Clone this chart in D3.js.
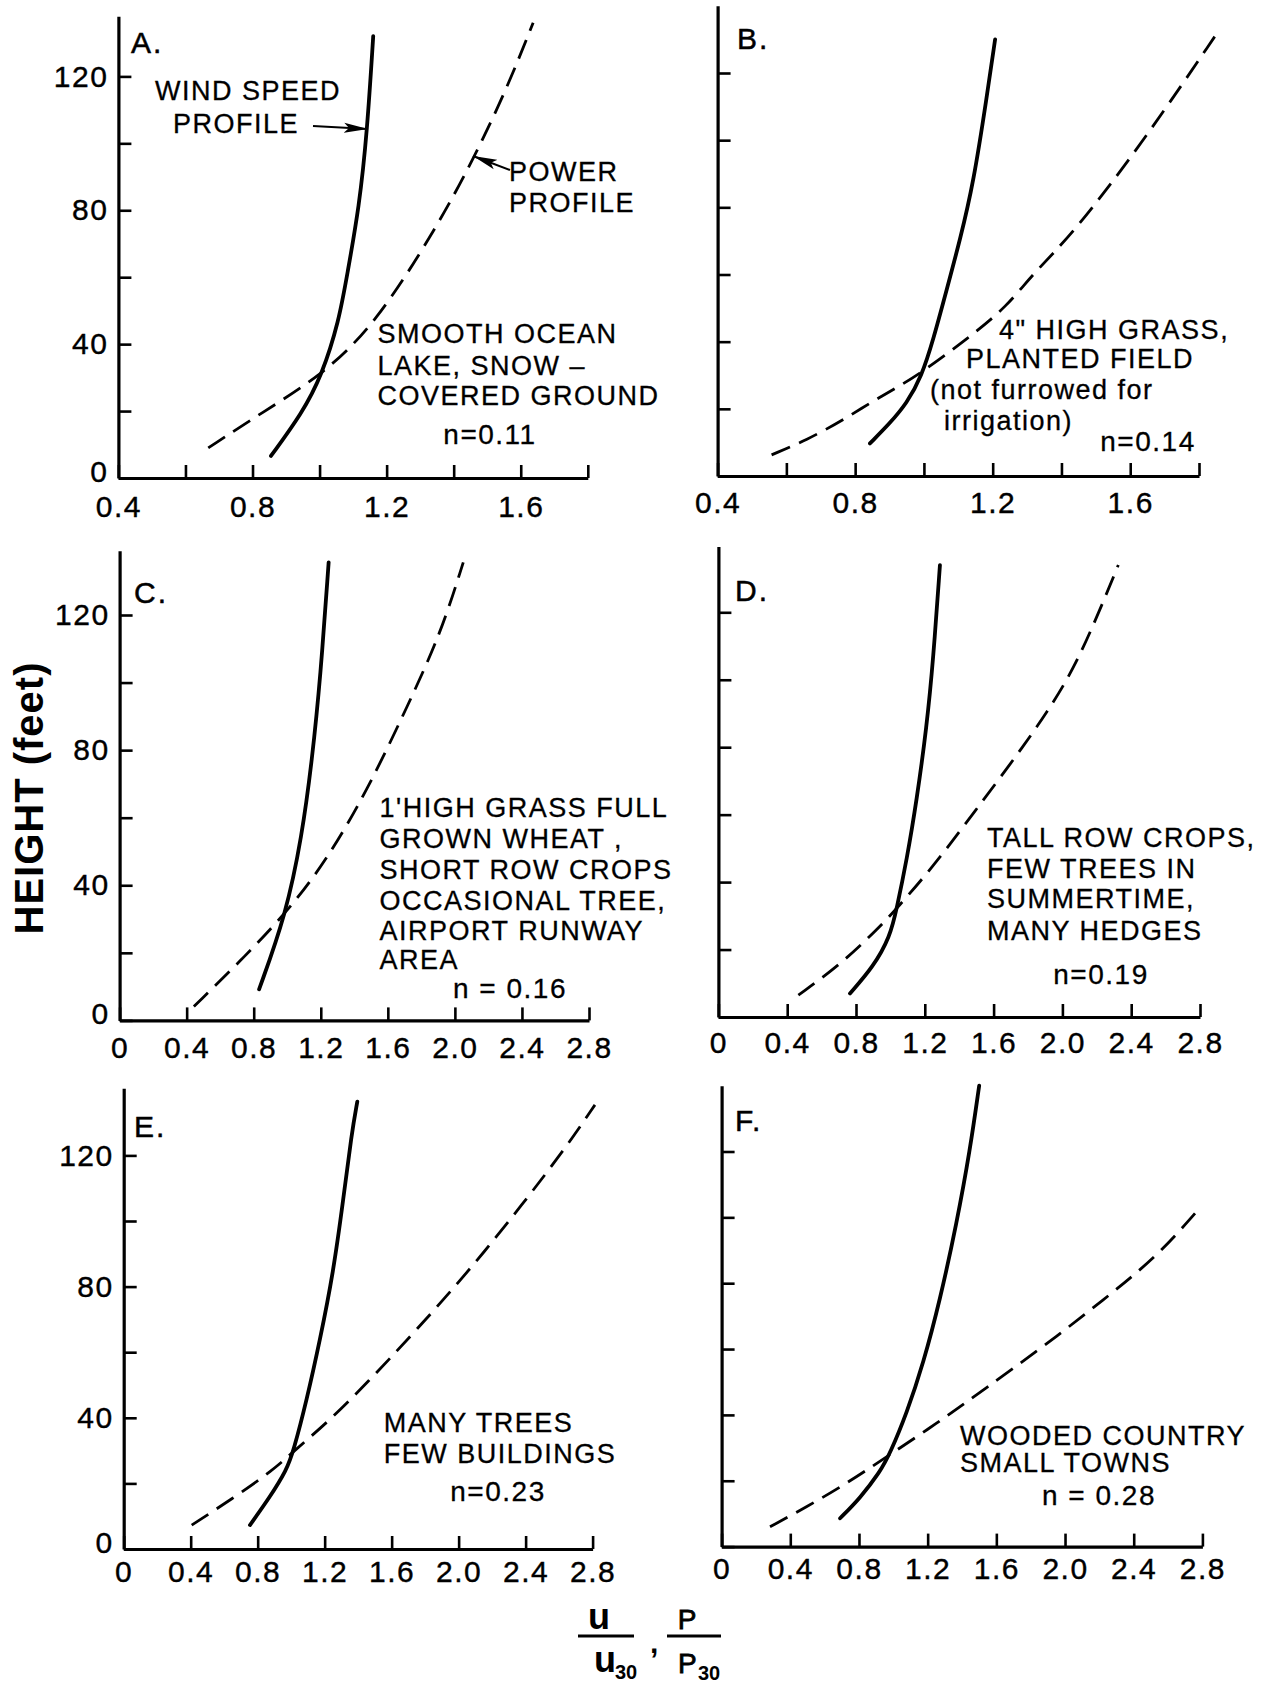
<!DOCTYPE html>
<html>
<head>
<meta charset="utf-8">
<script src="https://cdn.jsdelivr.net/npm/d3@7"></script>
<style>
  body { margin: 0; background: #fff; }
  svg { display: block; }
  text { font-family: "Liberation Sans", Arial, sans-serif; fill: #000; }
</style>
</head>
<body>
<svg id="chart" width="1280" height="1686"></svg>
<script>
// ---- data (u/u30 or P/P30 vs height in feet) ----
const speedA = [[0.855,6.6],[0.948,19.4],[1.007,30.7],[1.058,47],[1.082,60.6],[1.118,80.9],[1.142,103.6],[1.16,132]];
const powerA = [[0.668,9],[0.826,19.4],[1.007,30.7],[1.167,46],[1.35,75],[1.46,95.5],[1.557,116],[1.637,136]];
const speedB = [[0.843,9.7],[0.901,15.7],[0.95,21.6],[0.993,29.6],[1.027,40.5],[1.066,55.4],[1.105,70.3],[1.144,87.2],[1.183,113],[1.207,130]];
const powerB = [[0.557,6.3],[0.659,10.7],[0.766,16.7],[0.872,23.6],[0.979,29.6],[1.134,41.5],[1.241,50.4],[1.318,60.4],[1.433,72],[1.646,100.7],[1.86,133]];
const speedC = [[0.832,9.2],[0.991,31.1],[1.088,54.6],[1.148,77.1],[1.198,101.5],[1.247,135.6]];
const powerC = [[0.443,4.1],[0.748,18.9],[1.016,33.1],[1.235,47.5],[1.476,67.9],[1.721,93.4],[1.917,114.7],[2.05,135.6]];
const speedD = [[0.765,7],[0.901,14.9],[0.998,23.8],[1.037,32.2],[1.095,46.6],[1.153,64.3],[1.211,86.1],[1.249,105.9],[1.288,134]];
const powerD = [[0.465,6.5],[0.707,15.4],[0.94,26.8],[1.037,32.2],[1.249,44.6],[1.482,60.4],[1.773,80.1],[2.025,98.9],[2.18,116],[2.325,134]];
const speedE = [[0.754,7.3],[0.874,15.9],[0.973,24.1],[1.013,29.7],[1.093,45.4],[1.172,63.7],[1.251,84.1],[1.311,106.4],[1.361,126.7],[1.395,136.4]];
const powerE = [[0.406,7.3],[0.654,15.5],[0.893,24.1],[1.013,29.7],[1.232,39.3],[1.451,50.5],[1.749,66.8],[2.067,85.1],[2.386,105.4],[2.645,122.7],[2.814,135.4]];
const speedF = [[0.69,8.6],[0.806,14.7],[0.923,22.7],[0.981,28.3],[1.078,40.5],[1.175,55.7],[1.272,74.9],[1.369,98.2],[1.447,120.5],[1.5,140]];
const powerF = [[0.282,6],[0.496,12.1],[0.729,19.2],[0.962,27.3],[1.253,37.4],[1.524,47.6],[1.874,60.7],[2.223,74.9],[2.534,88],[2.757,101.2]];

const xTicksNarrow = [0.4,0.6,0.8,1.0,1.2,1.4,1.6,1.8];
const xLabelsNarrow = [0.4,0.8,1.2,1.6];
const xTicksWide = [0,0.4,0.8,1.2,1.6,2.0,2.4,2.8];
const yTicks = [0,20,40,60,80,100,120];
const yLabels = [0,40,80,120];

const panelNames = ["A.","B.","C.","D.","E.","F."];
const nValues = ["n=0.11","n=0.14","n = 0.16","n=0.19","n=0.23","n = 0.28"];
const terrain = [
  ["SMOOTH OCEAN","LAKE, SNOW –","COVERED GROUND"],
  ["4\" HIGH GRASS,","PLANTED FIELD","(not furrowed for","irrigation)"],
  ["1'HIGH GRASS FULL","GROWN WHEAT ,","SHORT ROW CROPS","OCCASIONAL TREE,","AIRPORT RUNWAY","AREA"],
  ["TALL ROW CROPS,","FEW TREES IN","SUMMERTIME,","MANY HEDGES"],
  ["MANY TREES","FEW BUILDINGS"],
  ["WOODED COUNTRY","SMALL TOWNS"]
];

// ---- layout of each panel (pixels) ----
const frames = [
  {left:118.4, right:587.8, base:478,    top120:76.4,   xmin:0.4, xmax:1.8, ymax:138, showY:true, pad:18,
   speed:speedA, power:powerA, tx:377.5, ty:[343,375,405], nx:490, ny:444, lx:131, ly:53},
  {left:717.6, right:1199,  base:476,    top120:73,     xmin:0.4, xmax:1.8, ymax:140, showY:false, pad:16,
   speed:speedB, power:powerB, tx:[999,966,930,944], ty:[339,368,399,430], nx:1148, ny:451, lx:737, ly:49},
  {left:119.6, right:589,   base:1020.4, top120:615,    xmin:0,   xmax:2.8, ymax:139, showY:true, pad:16,
   speed:speedC, power:powerC, tx:379.6, ty:[817,848,879,910,939.5,969], nx:510, ny:998, lx:134, ly:603},
  {left:718.4, right:1200,  base:1017,   top120:612.3,  xmin:0,   xmax:2.8, ymax:139.5, showY:false, pad:15,
   speed:speedD, power:powerD, tx:987, ty:[846.5,877.5,908,939.5], nx:1101, ny:984, lx:735, ly:601},
  {left:123.7, right:592.6, base:1549,   top120:1155.4, xmin:0,   xmax:2.8, ymax:140.5, showY:true, pad:12,
   speed:speedE, power:powerE, tx:383.7, ty:[1432,1463], nx:498, ny:1501, lx:134, ly:1137},
  {left:721.6, right:1202.4,base:1546.6, top120:1151.5, xmin:0,   xmax:2.8, ymax:140, showY:false, pad:11,
   speed:speedF, power:powerF, tx:960, ty:[1445,1472], nx:1099, ny:1505, lx:735, ly:1131}
];

const svg = d3.select("#chart");
svg.append("rect").attr("width",1280).attr("height",1686).attr("fill","#fff");

const defs = svg.append("defs");
defs.append("marker")
  .attr("id","head")
  .attr("viewBox","0 0 24 12")
  .attr("refX",24).attr("refY",6)
  .attr("markerWidth",24).attr("markerHeight",12)
  .attr("markerUnits","userSpaceOnUse")
  .attr("orient","auto")
  .append("path").attr("d","M0,1 L24,6 L0,11 L5,6 Z").attr("fill","#000");

const fmt = d => d === 0 ? "0" : d3.format(".1f")(d);

frames.forEach((f, i) => {
  const g = svg.append("g");
  const yPx = f.base - (f.base - f.top120) * f.ymax / 120;
  const x = d3.scaleLinear().domain([f.xmin, f.xmax]).range([f.left, f.right]);
  const y = d3.scaleLinear().domain([0, f.ymax]).range([f.base, yPx]);
  const narrow = f.xmin > 0;

  const yAxis = g.append("g")
    .attr("transform", "translate(" + f.left + ",0)")
    .call(d3.axisLeft(y)
      .tickValues(yTicks)
      .tickSizeInner(-13)
      .tickSizeOuter(0)
      .tickPadding(10)
      .tickFormat(d => (f.showY && yLabels.includes(d)) ? d : ""));

  // the 0 label sits just above the x-axis labels
  yAxis.selectAll(".tick text").filter(d => d === 0).attr("dy", "0.1em");

  const xAxis = g.append("g")
    .attr("transform", "translate(0," + f.base + ")")
    .call(d3.axisBottom(x)
      .tickValues(narrow ? xTicksNarrow : xTicksWide)
      .tickSizeInner(-13)
      .tickSizeOuter(0)
      .tickPadding(f.pad)
      .tickFormat(d => (!narrow || xLabelsNarrow.includes(d)) ? fmt(d) : ""));

  [yAxis, xAxis].forEach(a => {
    a.attr("font-family", null).attr("font-size", null);
    a.select(".domain").attr("stroke", "#000").attr("stroke-width", 3.2);
    a.selectAll(".tick line").attr("stroke", "#000").attr("stroke-width", 2.6);
    a.selectAll(".tick text")
      .style("font-size", "30px")
      .style("letter-spacing", "1.5px")
      .attr("stroke", "#000").attr("stroke-width", 0.4);
  });

  const line = d3.line()
    .x(d => x(d[0]))
    .y(d => y(d[1]))
    .curve(d3.curveBasis);

  g.append("path")
    .attr("d", line(f.power))
    .attr("fill", "none")
    .attr("stroke", "#000")
    .attr("stroke-width", 2.8)
    .attr("stroke-dasharray", "20 10");

  g.append("path")
    .attr("d", line(f.speed))
    .attr("fill", "none")
    .attr("stroke", "#000")
    .attr("stroke-width", 3.8)
    .attr("stroke-linecap", "round");

  // panel letter
  g.append("text")
    .attr("x", f.lx).attr("y", f.ly)
    .style("font-size", "30px")
    .style("letter-spacing", "2px")
    .attr("stroke", "#000").attr("stroke-width", 0.5)
    .text(panelNames[i]);

  // terrain description
  terrain[i].forEach((t, k) => {
    g.append("text")
      .attr("x", Array.isArray(f.tx) ? f.tx[k] : f.tx)
      .attr("y", f.ty[k])
      .style("font-size", "27px")
      .style("letter-spacing", "1.5px")
      .attr("stroke", "#000").attr("stroke-width", 0.3)
      .text(t);
  });

  g.append("text")
    .attr("x", f.nx).attr("y", f.ny)
    .attr("text-anchor", "middle")
    .style("font-size", "28px")
    .style("letter-spacing", "1.5px")
    .attr("stroke", "#000").attr("stroke-width", 0.3)
    .text(nValues[i]);
});

// call-outs in panel A
const ann = svg.append("g")
  .style("font-size", "27px")
  .style("letter-spacing", "1.5px");
ann.append("text").attr("x", 155).attr("y", 100).attr("stroke","#000").attr("stroke-width",0.3).text("WIND SPEED");
ann.append("text").attr("x", 173).attr("y", 133).attr("stroke","#000").attr("stroke-width",0.3).text("PROFILE");
ann.append("text").attr("x", 509).attr("y", 181).attr("stroke","#000").attr("stroke-width",0.3).text("POWER");
ann.append("text").attr("x", 509).attr("y", 212).attr("stroke","#000").attr("stroke-width",0.3).text("PROFILE");
ann.append("line").attr("x1", 313).attr("y1", 126).attr("x2", 368).attr("y2", 129)
  .attr("stroke", "#000").attr("stroke-width", 2).attr("marker-end", "url(#head)");
ann.append("line").attr("x1", 510).attr("y1", 170).attr("x2", 473).attr("y2", 156)
  .attr("stroke", "#000").attr("stroke-width", 2).attr("marker-end", "url(#head)");

// shared axis titles
svg.append("text")
  .attr("transform", "translate(43,798) rotate(-90)")
  .attr("text-anchor", "middle")
  .style("font-size", "40px")
  .style("font-weight", "bold")
  .style("letter-spacing", "1px")
  .text("HEIGHT (feet)");

const frac = svg.append("g");
frac.append("text").attr("x", 599).attr("y", 1629).attr("text-anchor", "middle")
  .style("font-size", "36px").style("font-weight", "bold").text("u");
frac.append("line").attr("x1", 578).attr("x2", 634).attr("y1", 1636).attr("y2", 1636)
  .attr("stroke", "#000").attr("stroke-width", 3);
frac.append("text").attr("x", 594).attr("y", 1672)
  .style("font-size", "36px").style("font-weight", "bold").text("u");
frac.append("text").attr("x", 615).attr("y", 1679)
  .style("font-size", "20px").style("font-weight", "bold").text("30");
frac.append("text").attr("x", 650).attr("y", 1653)
  .style("font-size", "30px").style("font-weight", "bold").text(",");
frac.append("text").attr("x", 687).attr("y", 1629).attr("text-anchor", "middle")
  .style("font-size", "28px").attr("stroke","#000").attr("stroke-width",0.8).text("P");
frac.append("line").attr("x1", 667).attr("x2", 721).attr("y1", 1636).attr("y2", 1636)
  .attr("stroke", "#000").attr("stroke-width", 3);
frac.append("text").attr("x", 678).attr("y", 1673)
  .style("font-size", "28px").attr("stroke","#000").attr("stroke-width",0.8).text("P");
frac.append("text").attr("x", 698).attr("y", 1680)
  .style("font-size", "20px").style("font-weight", "bold").text("30");
</script>
</body>
</html>
